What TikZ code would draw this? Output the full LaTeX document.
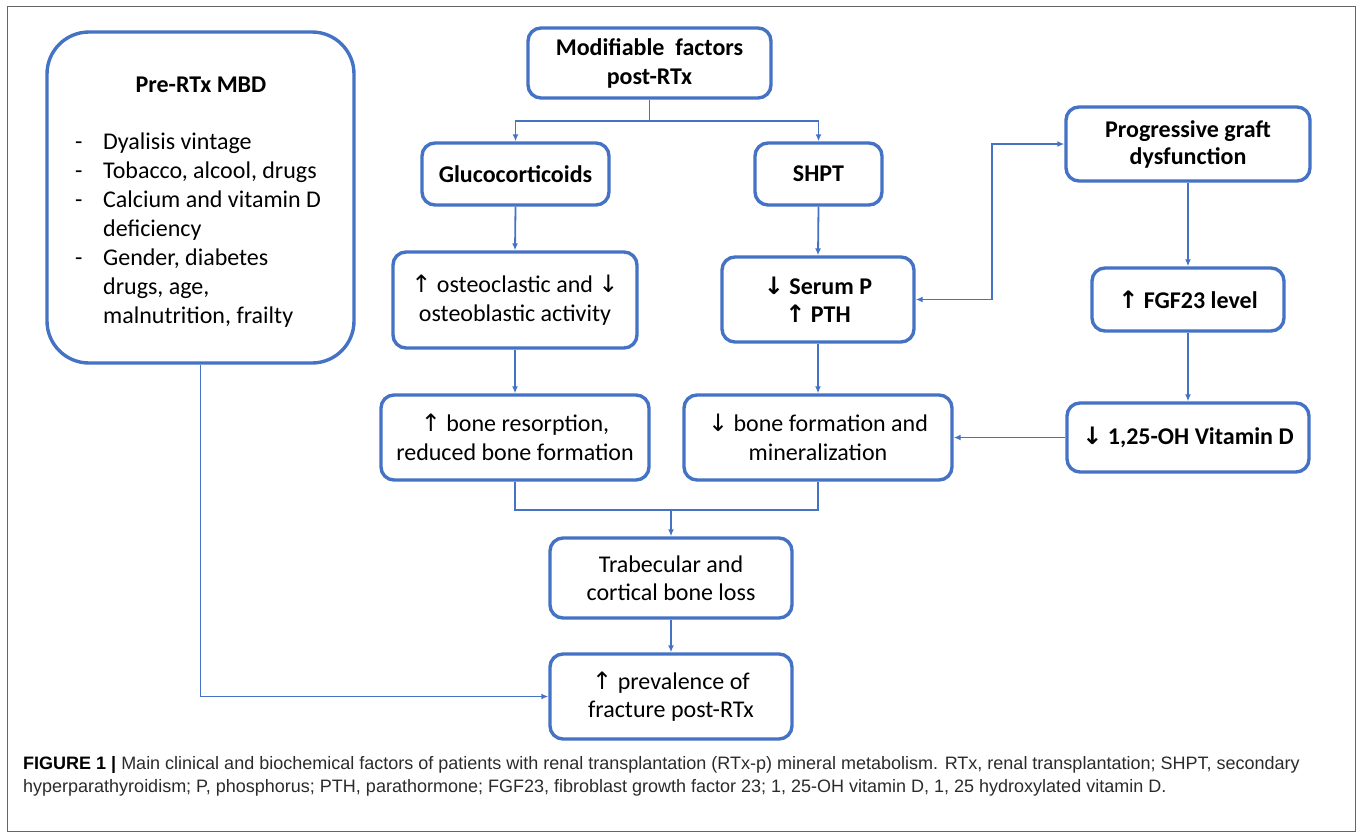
\documentclass[tikz,border=0pt]{standalone}
\usepackage{fontspec}
\setmainfont{Carlito}
\newfontfamily\capfont{Liberation Sans}
\newfontfamily\arrfont{DejaVu Sans}
\usetikzlibrary{arrows.meta}
\definecolor{bl}{HTML}{4472C4}
\definecolor{capc}{HTML}{2B2B2B}
\newcommand{\uarr}{{\arrfont ↑}}
\newcommand{\darr}{{\arrfont ↓}}
\begin{document}
\begin{tikzpicture}[x=1pt,y=-1pt,
  box/.style={draw=bl, line width=3.4pt, rounded corners=13pt, inner sep=0pt},
  conn/.style={draw=bl, line width=1.8pt, -{Latex[length=7pt,width=6pt]}},
  biconn/.style={draw=bl, line width=1.8pt, {Latex[length=7pt,width=6pt]}-{Latex[length=7pt,width=6pt]}},
  plain/.style={draw=bl, line width=1.8pt},
  txt/.style={font=\fontsize{24}{28.5}\selectfont, align=center},
  btxt/.style={font=\fontsize{24}{29}\selectfont\bfseries, align=center}]
\useasboundingbox (0,0) rectangle (1358,833);
\draw[black!60, line width=1pt] (7,6) rectangle (1355,831);

% boxes
\node[box, rounded corners=42pt, minimum width=307pt, minimum height=331pt] (pre) at (200.5,197.5) {};
\node[btxt] (pretitle) at (201,85) {Pre-RTx MBD};
\node[anchor=north west, inner sep=0pt, font=\fontsize{24}{29}\selectfont] (prelist) at (75,129)
 {\begin{tabular}{@{}p{28pt}@{}l@{}}
  - & Dyalisis vintage\\
  - & Tobacco, alcool, drugs\\
  - & Calcium and vitamin D\\
    & deficiency\\
  - & Gender, diabetes\\
    & drugs, age,\\
    & malnutrition, frailty
  \end{tabular}};

\node[box, btxt, minimum width=243pt, minimum height=70pt] (mod) at (649.5,63) {Modifiable\ \ factors\\post-RTx};
\node[box, btxt, minimum width=187pt, minimum height=62pt] (gluco) at (515.5,174) {Glucocorticoids};
\node[box, btxt, minimum width=127pt, minimum height=62pt] (shpt) at (818.5,174) {SHPT};
\node[box, btxt, font=\fontsize{24}{27}\selectfont\bfseries, minimum width=244pt, minimum height=74pt] (prog) at (1188,144) {Progressive graft\\dysfunction};
\node[box, txt, minimum width=244pt, minimum height=96pt] (osteo) at (515,300) {\uarr{} osteoclastic and \darr\\osteoblastic activity};
\node[box, btxt, font=\fontsize{24}{28}\selectfont\bfseries, minimum width=192pt, minimum height=85pt] (serum) at (818,299.5) {\darr{} Serum P\\\uarr{} PTH};
\node[box, btxt, minimum width=192pt, minimum height=63pt] (fgf) at (1188,299.5) {\uarr{} FGF23 level};
\node[box, txt, minimum width=268pt, minimum height=85pt] (resorp) at (515,437.5) {\uarr{} bone resorption,\\reduced bone formation};
\node[box, txt, minimum width=268pt, minimum height=85pt] (form) at (818,437.5) {\darr{} bone formation and\\mineralization};
\node[box, btxt, minimum width=242pt, minimum height=69pt] (vitd) at (1188,437.5) {\darr{} 1,25-OH Vitamin D};
\node[box, txt, minimum width=242pt, minimum height=80pt] (trab) at (671,578) {Trabecular and\\cortical bone loss};
\node[box, txt, minimum width=242pt, minimum height=85pt] (prev) at (671,696.5) {\uarr{} prevalence of\\fracture post-RTx};

% connectors
\coordinate (j1) at (mod.south |- 0,121);
\draw[plain] (mod.south) -- (j1);
\draw[conn] (j1) -| (gluco.north);
\draw[conn] (j1) -| (shpt.north);
\draw[conn] (gluco.south) -- (osteo.north);
\draw[conn] (osteo.south) -- (resorp.north);
\draw[conn] (shpt.south) -- (serum.north);
\draw[conn] (serum.south) -- (form.north);
\draw[conn] (prog.south) -- (fgf.north);
\draw[conn] (fgf.south) -- (vitd.north);
\draw[conn] (vitd.west) -- (form.east);
\draw[biconn] (serum.east) -- ++(76,0) |- (prog.west);
\coordinate (j2) at (trab.north |- 0,510);
\draw[plain] (resorp.south) -- (resorp.south |- j2) -- (form.south |- j2) -- (form.south);
\draw[conn] (j2) -- (trab.north);
\draw[conn] (trab.south) -- (prev.north);
\draw[conn] (pre.south) |- (prev.west);

% caption
\node[anchor=base west, inner sep=0pt, text=capc, font=\capfont\fontsize{18}{23}\selectfont, align=left] (cap) at (23,792)
 {\textbf{\color{black}FIGURE 1 \textbar} Main clinical and biochemical factors of patients with renal transplantation (RTx-p) mineral metabolism. RTx, renal transplantation; SHPT, secondary\\
 hyperparathyroidism; P, phosphorus; PTH, parathormone; FGF23, fibroblast growth factor 23; 1, 25-OH vitamin D, 1, 25 hydroxylated vitamin D.};
\end{tikzpicture}
\end{document}
